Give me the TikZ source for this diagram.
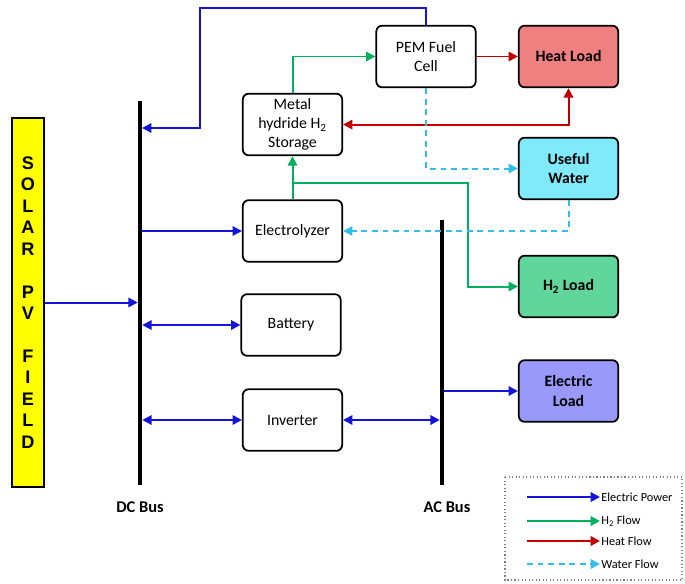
\documentclass[tikz,border=0pt]{standalone}
\usepackage{fontspec}
\setmainfont{Carlito}
\newfontfamily\pvfont{Liberation Sans}
\usetikzlibrary{arrows.meta,positioning}
\definecolor{elecblue}{RGB}{20,20,215}
\definecolor{h2green}{RGB}{0,176,96}
\definecolor{heatred}{RGB}{192,0,0}
\definecolor{watercyan}{RGB}{50,190,230}
\definecolor{heatfill}{RGB}{238,128,128}
\definecolor{waterfill}{RGB}{128,234,250}
\definecolor{h2fill}{RGB}{96,214,156}
\definecolor{elfill}{RGB}{153,153,250}
\definecolor{pvyellow}{RGB}{255,255,0}
\tikzset{
	unitbox/.style={draw, line width=1.5pt, rounded corners=5pt, minimum width=2.98cm, minimum height=1.85cm, align=center, inner sep=2pt, font=\fontsize{13.5}{16.5}\selectfont},
	loadbox/.style={unitbox, font=\bfseries\fontsize{13.5}{16.5}\selectfont},
	busbar/.style={fill=black, inner sep=0pt, minimum width=0.12cm},
	buslabel/.style={font=\bfseries\fontsize{14}{16}\selectfont},
	flowline/.style={line width=1.7pt, -{Triangle[length=8pt,width=8pt]}},
	bothtips/.style={{Triangle[length=8pt,width=8pt]}-{Triangle[length=8pt,width=8pt]}},
	elec/.style={flowline, elecblue},
	hflow/.style={flowline, h2green},
	heat/.style={flowline, heatred},
	wflow/.style={flowline, watercyan, dash pattern=on 5pt off 4pt},
	legtext/.style={anchor=west, inner sep=1pt, font=\fontsize{10.5}{12}\selectfont}
}
\begin{document}
\begin{tikzpicture}[x=0.03cm, y=-0.03cm]
	%%%%% START %%%%%
	\useasboundingbox (0,0) rectangle (685,583);
	
	\node[draw, line width=1pt, fill=pvyellow, minimum width=0.96cm, minimum height=11.07cm, inner sep=0pt, align=center, font=\pvfont\bfseries\fontsize{15.5}{18.3}\selectfont] (pv) at (28,302.5) {S\\O\\L\\A\\R\\~\\P\\V\\~\\F\\I\\E\\L\\D};
	
	\node[busbar, minimum height=11.52cm] (dc) at (140,293) {};
	\node[busbar, minimum height=7.95cm] (ac) at (442,352.5) {};
	\node[buslabel] (dclabel) at (140,507) {DC Bus};
	\node[buslabel] (aclabel) at (447,507) {AC Bus};
	
	\node[unitbox] (hydride) at (292.5,124.5) {Metal\\hydride H\textsubscript{2}\\Storage};
	\node[unitbox] (electro) at (292.5,231) {Electrolyzer};
	\node[unitbox] (battery) at (291,325) {Battery};
	\node[unitbox] (inverter) at (292.5,420) {Inverter};
	\node[unitbox] (pem) at (426,56.5) {PEM Fuel\\Cell};
	
	\node[loadbox, fill=heatfill] (heatload) at (568.5,56.5) {Heat Load};
	\node[loadbox, fill=waterfill] (usewater) at (568.5,168.5) {Useful\\Water};
	\node[loadbox, fill=h2fill] (h2load) at (568.5,286.5) {H\textsubscript{2} Load};
	\node[loadbox, fill=elfill] (elload) at (568.5,391) {Electric\\Load};
	
	% electric power
	\coordinate (pemtop) at (200,8);
	\coordinate (dcin) at (142,128);
	\draw[elec] (pem.north) |- (pemtop) |- (dcin);
	\draw[elec] (pv.east) -- (pv.east -| dc.west);
	\draw[elec] (electro.west -| dc.east) -- (electro.west);
	\draw[elec, bothtips] (battery.west -| dc.east) -- (battery.west);
	\draw[elec, bothtips] (inverter.west -| dc.east) -- (inverter.west);
	\draw[elec, bothtips] (inverter.east) -- (inverter.east -| ac.west);
	\draw[elec] (elload.west -| ac.east) -- (elload.west);
	
	% hydrogen
	\coordinate (h2split) at (292.5,183);
	\coordinate (h2bend) at (468,183);
	\draw[hflow] (electro.north) -- (hydride.south);
	\draw[hflow] (h2split) -- (h2bend) |- (h2load.west);
	\draw[hflow] (hydride.north) |- (pem.west);
	
	% heat
	\draw[heat] (pem.east) -- (heatload.west);
	\draw[heat, bothtips] (hydride.east) -| (heatload.south);
	
	% water
	\draw[wflow] (pem.south) |- (usewater.west);
	\draw[wflow] (usewater.south) |- (electro.east);
	
	% legend
	\draw[gray, line width=1pt, dotted] (505,477) rectangle (682,580);
	\node[legtext] (lgelec) at (600,497) {Electric Power};
	\node[legtext] (lgh2) at (600,521) {H\textsubscript{2} Flow};
	\node[legtext] (lgheat) at (600,541) {Heat Flow};
	\node[legtext] (lgwater) at (600,564) {Water Flow};
	\coordinate (lgelecs) at (527,497);
	\coordinate (lgh2s) at (527,521);
	\coordinate (lgheats) at (527,541);
	\coordinate (lgwaters) at (527,564);
	\draw[elec, line width=2.2pt] (lgelecs) -- (lgelec.west);
	\draw[hflow, line width=2.2pt] (lgh2s) -- (lgh2.west);
	\draw[heat, line width=2.2pt] (lgheats) -- (lgheat.west);
	\draw[wflow, line width=2.2pt] (lgwaters) -- (lgwater.west);
	%%%%% END %%%%%
\end{tikzpicture}
\end{document}
